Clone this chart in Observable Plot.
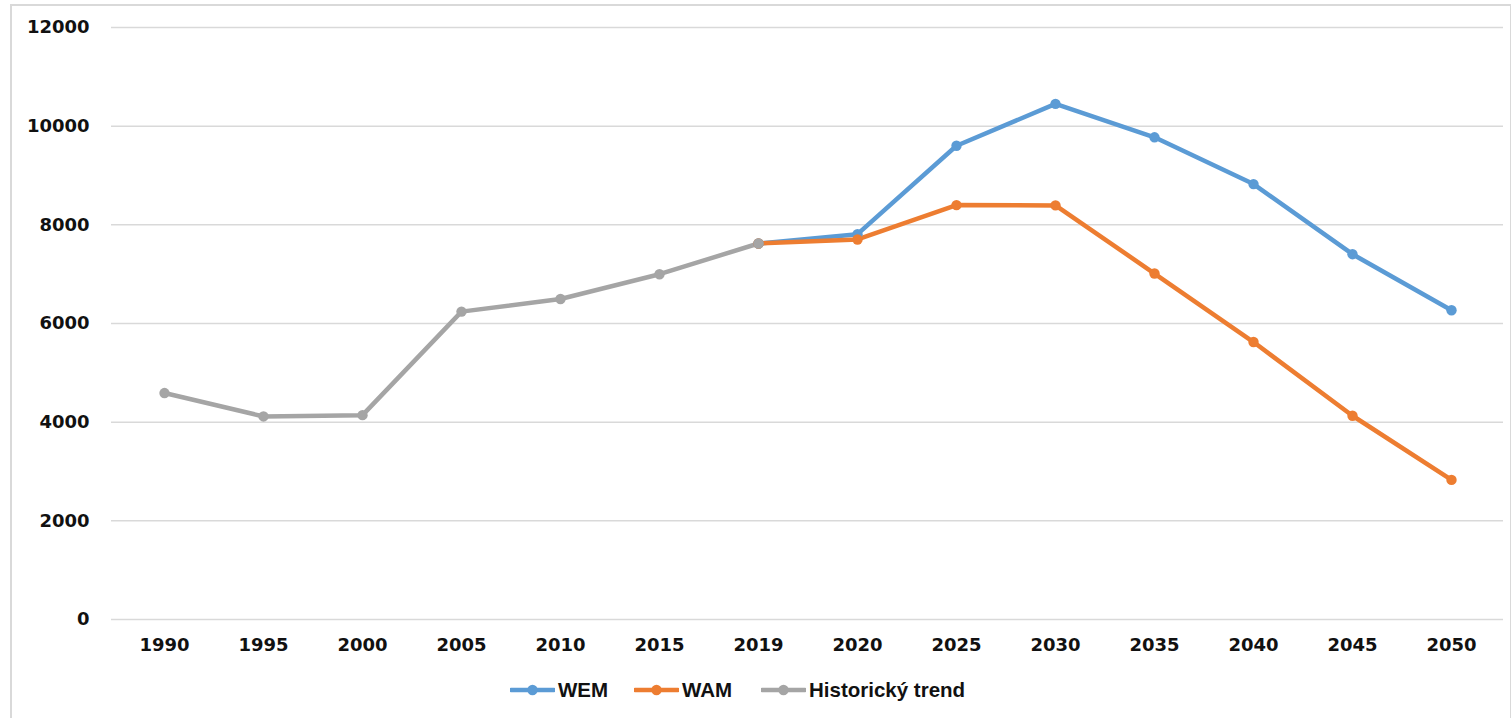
<!DOCTYPE html>
<html>
<head>
<meta charset="utf-8">
<script src="https://cdn.jsdelivr.net/npm/d3@7"></script>
<script src="https://cdn.jsdelivr.net/npm/@observablehq/plot@0.6"></script>
<style>
  html, body { margin: 0; padding: 0; background: #fff; }
  #frame { position: absolute; left: 10px; top: 4px; width: 1502px; height: 720px; border: 2px solid #d9d9d9; box-sizing: border-box; }
  #chart { position: absolute; left: 0; top: 0; }
  #legend { position: absolute; left: 0; top: 677px; width: 1511px; height: 26px; }
  .item { position: absolute; top: 0; display: flex; align-items: center; font-family: "Liberation Sans", Arial, sans-serif; font-weight: bold; font-size: 20.5px; color: #111; height: 26px; }
  .item svg { margin-right: 3px; }
</style>
</head>
<body>
<div id="frame"></div>
<div id="chart"></div>
<div id="legend"></div>
<script>
const years = ["1990","1995","2000","2005","2010","2015","2019","2020","2025","2030","2035","2040","2045","2050"];
const historic = [4590, 4116, 4142, 6241, 6497, 6999, 7622, null, null, null, null, null, null, null];
const wem = [null, null, null, null, null, null, 7622, 7811, 9604, 10451, 9774, 8826, 7405, 6268];
const wam = [null, null, null, null, null, null, 7622, 7703, 8400, 8394, 7013, 5624, 4130, 2830];
const seriesNames = ["WEM", "WAM", "Historický trend"];
const seriesColors = ["#5B9BD5", "#ED7D31", "#A5A5A5"];
const yTicks = [0, 2000, 4000, 6000, 8000, 10000, 12000];

const seriesValues = [wem, wam, historic];
const rows = [];
seriesNames.forEach((name, i) => {
  years.forEach((yr, j) => {
    const v = seriesValues[i][j];
    if (v != null) rows.push({series: name, year: yr, value: v});
  });
});

const chart = Plot.plot({
  width: 1511,
  height: 660,
  marginLeft: 111,
  marginRight: 8,
  marginTop: 27,
  marginBottom: 41,
  style: {fontFamily: "'DejaVu Sans', sans-serif", fontWeight: "bold", fontSize: "18px", color: "#111", background: "transparent"},
  x: {type: "point", domain: years, padding: 0.5, label: null},
  y: {domain: [0, 12000], label: null},
  color: {domain: seriesNames, range: seriesColors},
  marks: [
    Plot.ruleY(yTicks, {stroke: "#d9d9d9", strokeWidth: 1.5}),
    Plot.axisY({ticks: yTicks, tickSize: 0, tickPadding: 22, label: null, tickFormat: d => String(d)}),
    Plot.axisX({tickSize: 0, tickPadding: 19, label: null}),
    ...seriesNames.map((name, i) => Plot.line(rows.filter(r => r.series === name), {x: "year", y: "value", stroke: seriesColors[i], strokeWidth: 4.5, strokeLinejoin: "round", strokeLinecap: "round"})),
    ...seriesNames.map((name, i) => Plot.dot(rows.filter(r => r.series === name), {x: "year", y: "value", fill: seriesColors[i], r: 5.2}))
  ]
});
document.getElementById("chart").appendChild(chart);

const legendPos = [510, 634, 761];
const legend = document.getElementById("legend");
seriesNames.forEach((name, i) => {
  const div = document.createElement("div");
  div.className = "item";
  div.style.left = legendPos[i] + "px";
  div.innerHTML = `<svg width="45" height="14"><line x1="1" y1="7" x2="44" y2="7" stroke="${seriesColors[i]}" stroke-width="4.5" stroke-linecap="round"/><circle cx="22.5" cy="7" r="5.2" fill="${seriesColors[i]}"/></svg><span>${name}</span>`;
  legend.appendChild(div);
});
</script>
</body>
</html>
